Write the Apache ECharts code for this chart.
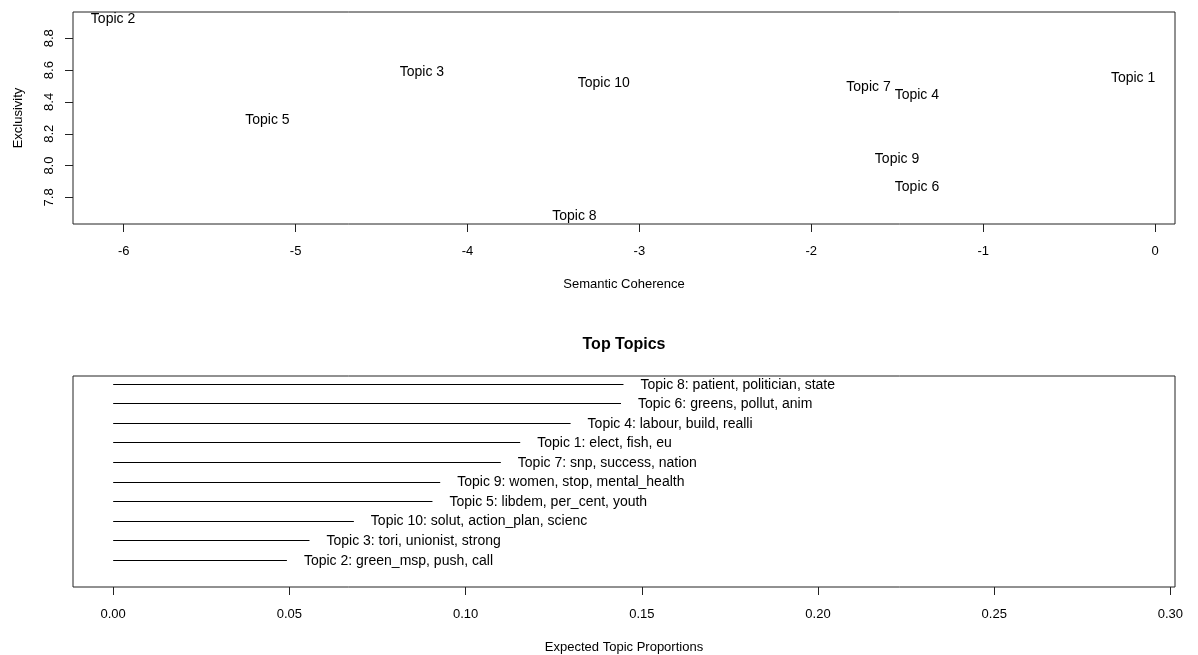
<!DOCTYPE html>
<html>
<head>
<meta charset="utf-8">
<script src="https://cdn.jsdelivr.net/npm/echarts@6/dist/echarts.min.js"></script>
<style>
html,body{margin:0;padding:0;background:#fff;}
#chart{width:1198px;height:655px;}
</style>
</head>
<body>
<div id="chart"></div>
<script>
// ---- Top panel: semantic coherence vs exclusivity ----
const topicNames = ["Topic 1","Topic 2","Topic 3","Topic 4","Topic 5","Topic 6","Topic 7","Topic 8","Topic 9","Topic 10"];
const semanticCoherence = [-0.128, -6.062, -4.265, -1.386, -5.164, -1.385, -1.667, -3.378, -1.501, -3.207];
const exclusivity = [8.552, 8.917, 8.584, 8.440, 8.286, 7.865, 8.494, 7.681, 8.040, 8.519];
const xTicksTop = [-6, -5, -4, -3, -2, -1, 0];
const yTicksTop = [7.8, 8.0, 8.2, 8.4, 8.6, 8.8];

// ---- Bottom panel: top topics (bottom to top) ----
const barTopics = ["Topic 2","Topic 3","Topic 10","Topic 5","Topic 9","Topic 7","Topic 1","Topic 4","Topic 6","Topic 8"];
const barWords = ["green_msp, push, call","tori, unionist, strong","solut, action_plan, scienc","libdem, per_cent, youth","women, stop, mental_health","snp, success, nation","elect, fish, eu","labour, build, realli","greens, pollut, anim","patient, politician, state"];
const barProportions = [0.0493, 0.0557, 0.0683, 0.0906, 0.0928, 0.1100, 0.1155, 0.1298, 0.1441, 0.1448];
const xTicksBottom = [0, 0.05, 0.10, 0.15, 0.20, 0.25, 0.30];

const FONT = "'Liberation Sans', Arial, sans-serif";
const TXT = '#000';
const AX = '#222';

const topData = topicNames.map((n, i) => [semanticCoherence[i], exclusivity[i], n]);
const barData = barTopics.map((t, i) => [barProportions[i], i + 1, t + ': ' + barWords[i]]);

const chart = echarts.init(document.getElementById('chart'), null, {renderer: 'canvas'});
chart.setOption({
  animation: false,
  backgroundColor: '#fff',
  textStyle: {fontFamily: FONT},
  title: {
    text: 'Top Topics', left: 624, top: 337, padding: 0, textAlign: 'center',
    textStyle: {fontFamily: FONT, fontSize: 16, fontWeight: 'bold', color: TXT}
  },
  grid: [
    {left: 73, top: 12, width: 1102, height: 212, show: true, borderColor: AX, borderWidth: 1, backgroundColor: 'transparent'},
    {left: 73, top: 376, width: 1102, height: 212, show: true, borderColor: AX, borderWidth: 1, backgroundColor: 'transparent'}
  ],
  xAxis: [
    {
      type: 'value', gridIndex: 0, min: -6.295, max: 0.116,
      splitLine: {show: false}, axisLine: {show: false, onZero: false},
      axisTick: {show: true, length: 8, inside: false, customValues: xTicksTop, lineStyle: {color: AX}},
      axisLabel: {show: true, customValues: xTicksTop, margin: 21, fontSize: 13, color: TXT, fontFamily: FONT,
        formatter: v => String(v)},
      name: 'Semantic Coherence', nameLocation: 'middle', nameGap: 54,
      nameTextStyle: {fontSize: 13, color: TXT, fontFamily: FONT}
    },
    {
      type: 'value', gridIndex: 1, min: -0.0114, max: 0.3013,
      splitLine: {show: false}, axisLine: {show: false, onZero: false},
      axisTick: {show: true, length: 8, inside: false, customValues: xTicksBottom, lineStyle: {color: AX}},
      axisLabel: {show: true, customValues: xTicksBottom, margin: 21, fontSize: 13, color: TXT, fontFamily: FONT,
        formatter: v => v.toFixed(2)},
      name: 'Expected Topic Proportions', nameLocation: 'middle', nameGap: 54,
      nameTextStyle: {fontSize: 13, color: TXT, fontFamily: FONT}
    }
  ],
  yAxis: [
    {
      type: 'value', gridIndex: 0, min: 7.633, max: 8.965,
      splitLine: {show: false}, axisLine: {show: false, onZero: false},
      axisTick: {show: true, length: 8, inside: false, customValues: yTicksTop, lineStyle: {color: AX}},
      axisLabel: {show: true, customValues: yTicksTop, margin: 17, rotate: 90, fontSize: 13, color: TXT, fontFamily: FONT,
        formatter: v => v.toFixed(1)},
      name: 'Exclusivity', nameLocation: 'middle', nameGap: 48, nameRotate: 90,
      nameTextStyle: {fontSize: 13, color: TXT, fontFamily: FONT}
    },
    {
      type: 'value', gridIndex: 1, min: -0.4, max: 10.4, show: false,
      axisLine: {onZero: false},
      splitLine: {show: false}
    }
  ],
  series: [
    {
      type: 'custom', xAxisIndex: 0, yAxisIndex: 0, clip: false,
      data: topData,
      renderItem: function (params, api) {
        const p = api.coord([api.value(0), api.value(1)]);
        return {
          type: 'text', x: p[0], y: p[1],
          style: {text: topData[params.dataIndex][2], fontSize: 14, fontFamily: FONT, fill: TXT,
            align: 'center', verticalAlign: 'middle'}
        };
      }
    },
    {
      type: 'custom', xAxisIndex: 1, yAxisIndex: 1, clip: false,
      data: barData,
      renderItem: function (params, api) {
        const v = api.value(0), pos = api.value(1);
        const s = api.coord([0, pos]);
        const e = api.coord([v, pos]);
        const y = Math.round(e[1]) + 0.5;
        return {
          type: 'group',
          children: [
            {type: 'line', shape: {x1: s[0], y1: y, x2: e[0], y2: y}, style: {stroke: '#000', lineWidth: 1}},
            {type: 'text', x: e[0] + 17, y: e[1] + 1,
              style: {text: barData[params.dataIndex][2], fontSize: 14, fontFamily: FONT, fill: TXT,
                align: 'left', verticalAlign: 'middle'}}
          ]
        };
      }
    }
  ]
});
</script>
</body>
</html>
